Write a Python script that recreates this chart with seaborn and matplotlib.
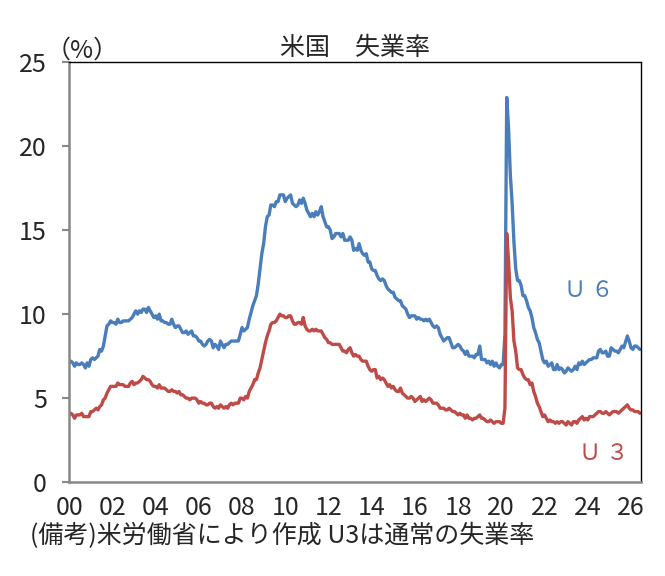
import numpy as np
import pandas as pd
import matplotlib.pyplot as plt
import seaborn as sns

# monthly, from 2000-01 (NaN = no survey that month)
u3 = [4.0, 4.1, 4.0, 3.8, 4.0, 4.0, 4.0, 4.1, 3.9, 3.9, 3.9, 3.9,
      4.2, 4.2, 4.3, 4.4, 4.3, 4.5, 4.6, 4.9, 5.0, 5.3, 5.5, 5.7,
      5.7, 5.7, 5.7, 5.9, 5.8, 5.8, 5.8, 5.7, 5.7, 5.7, 5.9, 6.0,
      5.8, 5.9, 5.9, 6.0, 6.1, 6.3, 6.2, 6.1, 6.1, 6.0, 5.8, 5.7,
      5.7, 5.6, 5.8, 5.6, 5.6, 5.6, 5.5, 5.4, 5.4, 5.5, 5.4, 5.4,
      5.3, 5.4, 5.2, 5.2, 5.1, 5.0, 5.0, 4.9, 5.0, 5.0, 5.0, 4.9,
      4.7, 4.8, 4.7, 4.7, 4.6, 4.6, 4.7, 4.7, 4.5, 4.4, 4.5, 4.4,
      4.6, 4.5, 4.4, 4.5, 4.4, 4.6, 4.7, 4.6, 4.7, 4.7, 4.7, 5.0,
      5.0, 4.9, 5.1, 5.0, 5.4, 5.6, 5.8, 6.1, 6.1, 6.5, 6.8, 7.3,
      7.8, 8.3, 8.7, 9.0, 9.4, 9.5, 9.5, 9.6, 9.8, 10.0, 9.9, 9.9,
      9.8, 9.8, 9.9, 9.9, 9.6, 9.4, 9.4, 9.5, 9.5, 9.4, 9.8, 9.3,
      9.1, 9.0, 9.0, 9.1, 9.0, 9.1, 9.0, 9.0, 9.0, 8.8, 8.6, 8.5,
      8.3, 8.3, 8.2, 8.2, 8.2, 8.2, 8.2, 8.0, 7.8, 7.8, 7.7, 7.9,
      8.0, 7.7, 7.5, 7.6, 7.5, 7.5, 7.3, 7.2, 7.2, 7.2, 6.9, 6.7,
      6.6, 6.7, 6.7, 6.2, 6.3, 6.1, 6.2, 6.1, 5.9, 5.7, 5.8, 5.6,
      5.7, 5.5, 5.4, 5.4, 5.6, 5.3, 5.2, 5.1, 5.0, 5.0, 5.1, 5.0,
      4.8, 4.9, 5.0, 5.1, 4.8, 4.9, 4.8, 4.9, 5.0, 4.9, 4.7, 4.7,
      4.7, 4.6, 4.4, 4.4, 4.4, 4.3, 4.3, 4.4, 4.3, 4.2, 4.2, 4.1,
      4.0, 4.1, 4.0, 4.0, 3.8, 4.0, 3.8, 3.8, 3.7, 3.8, 3.8, 3.9,
      4.0, 3.8, 3.8, 3.7, 3.6, 3.6, 3.7, 3.6, 3.5, 3.6, 3.6, 3.6,
      3.5, 3.5, 4.4, 14.8, 13.2, 11.0, 10.2, 8.4, 7.8, 6.8, 6.7, 6.7,
      6.4, 6.2, 6.1, 6.1, 5.8, 5.9, 5.4, 5.1, 4.7, 4.5, 4.2, 3.9,
      4.0, 3.8, 3.6, 3.7, 3.6, 3.6, 3.5, 3.6, 3.5, 3.6, 3.6, 3.5,
      3.4, 3.6, 3.5, 3.4, 3.6, 3.6, 3.5, 3.7, 3.8, 3.9, 3.7, 3.8,
      3.7, 3.9, 3.9, 3.9, 4.0, 4.1, 4.2, 4.2, 4.1, 4.1, 4.2, 4.1,
      4.0, 4.1, 4.2, 4.2, 4.2, 4.1, 4.2, 4.3, 4.4, np.nan, 4.6, 4.4,
      4.3, 4.3, 4.2, 4.2, 4.2, 4.1]

u6 = [7.1, 7.2, 7.1, 6.9, 7.1, 7.0, 7.0, 7.1, 7.0, 6.8, 7.1, 6.9,
      7.3, 7.4, 7.3, 7.4, 7.5, 7.9, 7.8, 8.1, 8.7, 9.3, 9.4, 9.6,
      9.5, 9.5, 9.4, 9.7, 9.5, 9.5, 9.6, 9.6, 9.6, 9.6, 9.7, 9.8,
      10.0, 10.2, 10.0, 10.2, 10.1, 10.3, 10.3, 10.1, 10.4, 10.2, 10.0, 9.8,
      9.9, 9.7, 10.0, 9.6, 9.6, 9.5, 9.5, 9.4, 9.4, 9.7, 9.4, 9.2,
      9.3, 9.3, 9.1, 8.9, 8.9, 9.0, 8.8, 8.9, 9.0, 8.7, 8.7, 8.6,
      8.4, 8.4, 8.2, 8.1, 8.2, 8.4, 8.5, 8.4, 8.0, 8.2, 8.1, 7.9,
      8.4, 8.2, 8.0, 8.2, 8.2, 8.3, 8.4, 8.4, 8.4, 8.4, 8.4, 8.8,
      9.2, 9.0, 9.1, 9.2, 9.7, 10.1, 10.5, 10.8, 11.1, 11.8, 12.7, 13.6,
      14.2, 15.2, 15.8, 15.9, 16.5, 16.5, 16.4, 16.7, 16.7, 17.1, 17.1, 17.1,
      16.7, 16.9, 17.0, 17.1, 16.6, 16.5, 16.4, 16.5, 16.8, 16.6, 16.9, 16.6,
      16.2, 16.0, 15.8, 16.0, 15.8, 16.1, 15.9, 16.1, 16.4, 15.8, 15.5, 15.2,
      15.2, 15.0, 14.5, 14.6, 14.8, 14.8, 14.8, 14.6, 14.8, 14.4, 14.4, 14.4,
      14.6, 14.4, 13.8, 13.9, 13.8, 14.2, 13.8, 13.6, 13.5, 13.6, 13.1, 13.1,
      12.7, 12.6, 12.6, 12.3, 12.1, 12.0, 12.1, 12.0, 11.7, 11.5, 11.4, 11.3,
      11.3, 11.0, 10.9, 10.8, 10.8, 10.5, 10.4, 10.3, 10.0, 9.8, 9.9, 9.9,
      9.9, 9.7, 9.8, 9.7, 9.7, 9.6, 9.7, 9.6, 9.7, 9.5, 9.3, 9.2,
      9.3, 9.2, 8.8, 8.6, 8.4, 8.5, 8.6, 8.6, 8.3, 8.0, 8.0, 8.1,
      8.2, 8.1, 7.9, 7.8, 7.6, 7.8, 7.5, 7.5, 7.5, 7.4, 7.6, 7.6,
      8.1, 7.3, 7.3, 7.3, 7.1, 7.2, 7.0, 7.2, 6.9, 7.1, 6.9, 6.8,
      7.0, 7.0, 8.8, 22.9, 21.1, 18.3, 16.6, 14.3, 12.7, 12.0, 12.0, 11.7,
      11.1, 11.1, 10.8, 10.4, 10.2, 9.8, 9.2, 8.9, 8.5, 8.3, 7.8, 7.3,
      7.1, 7.2, 6.9, 7.0, 7.1, 6.7, 6.7, 7.0, 6.7, 6.8, 6.7, 6.5,
      6.6, 6.8, 6.7, 6.6, 6.7, 6.9, 6.7, 7.1, 7.0, 7.2, 7.0, 7.1,
      7.2, 7.3, 7.3, 7.4, 7.4, 7.4, 7.8, 7.9, 7.7, 7.7, 7.8, 7.5,
      7.5, 8.0, 7.9, 7.8, 7.8, 7.7, 7.9, 8.1, 8.0, np.nan, 8.7, 8.4,
      8.0, 7.9, 8.1, 8.1, 8.0, 7.9]

year_ticks = list(range(0, 27, 2))
year_labels = ['%02d' % y for y in year_ticks]
y_ticks = [0, 5, 10, 15, 20, 25]

dates = pd.date_range('2000-01-01', periods=len(u3), freq='MS')
t = (dates.year - 2000) + (dates.month - 1) / 12
df = pd.DataFrame({'t': t, 'U6': u6, 'U3': u3})

sns.set_style('white')
plt.rcParams['font.family'] = ['Noto Sans CJK JP', 'DejaVu Sans']

blue = '#4a7ebb'
red = '#be4b48'

fig = plt.figure(figsize=(6.65, 5.76), dpi=100)
ax = fig.add_axes([0.104, 0.163, 0.86, 0.729])

d6 = df.dropna(subset=['U6'])
d3 = df.dropna(subset=['U3'])
sns.lineplot(x='t', y='U6', data=d6, ax=ax, color=blue, lw=2.4, estimator=None)
sns.lineplot(x='t', y='U3', data=d3, ax=ax, color=red, lw=2.4, estimator=None)

ax.set_xlim(0, df['t'].iloc[-1] + 0.05)
ax.set_ylim(0, 25)
ax.set_yticks(y_ticks)
ax.set_xticks(year_ticks)
ax.set_xticklabels(year_labels, fontsize=18)
ax.set_yticklabels([str(v) for v in y_ticks], fontsize=18)
ax.set_xlabel('')
ax.set_ylabel('')

ax.tick_params(axis='y', direction='out', length=5, width=1.5, color='#888888', pad=11, left=True)
ax.tick_params(axis='x', length=0, pad=9)

for s in ['left', 'bottom']:
    ax.spines[s].set_color('#888888')
    ax.spines[s].set_linewidth(1.8)
for s in ['top', 'right']:
    ax.spines[s].set_color('black')
    ax.spines[s].set_linewidth(1.0)

ax.set_title('米国　失業率', fontsize=18, pad=5)
fig.text(0.068, 0.89, '（%）', fontsize=18, ha='left', va='bottom')
ax.text(0.952, 0.457, 'Ｕ ６', transform=ax.transAxes, color=blue, fontsize=16, ha='right', va='center')
ax.text(0.978, 0.069, 'Ｕ ３', transform=ax.transAxes, color=red, fontsize=16, ha='right', va='center')
fig.text(0.045, 0.069, '(備考)米労働省により作成 U3は通常の失業率', fontsize=18, ha='left', va='center')

plt.savefig('out.png', dpi=100)
